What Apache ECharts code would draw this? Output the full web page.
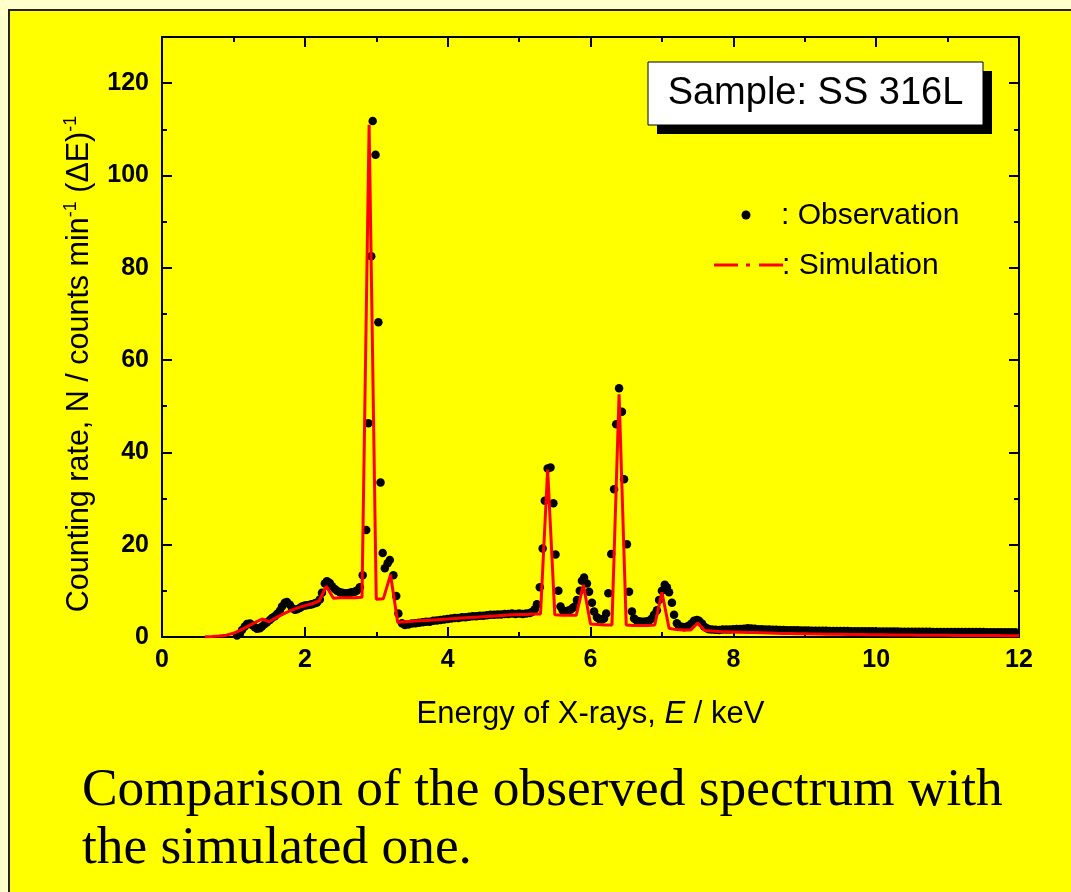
<!DOCTYPE html>
<html>
<head>
<meta charset="utf-8">
<script src="https://cdn.jsdelivr.net/npm/echarts@6/dist/echarts.min.js"></script>
<style>
html,body{margin:0;padding:0;background:#FFFFCC;}
#chart{width:1071px;height:892px;}
</style>
</head>
<body>
<div id="chart"></div>
<script>
// ---- data ----
const xTickValues = [0, 2, 4, 6, 8, 10, 12];
const yTickValues = [0, 20, 40, 60, 80, 100, 120];

// Observed spectrum: [energy keV, counting rate]
const observation = [
  [1.05,0.3],[1.09,0.7],[1.12,1.5],[1.16,2.3],[1.19,2.8],[1.23,2.9],[1.26,2.6],[1.30,2.1],[1.33,1.8],[1.37,1.9],
  [1.40,2.3],[1.44,2.8],[1.47,3.2],[1.51,3.7],[1.54,4.1],[1.58,4.5],[1.61,5.0],[1.65,5.7],[1.68,6.6],[1.72,7.4],
  [1.75,7.6],[1.79,7.0],[1.82,6.3],[1.86,5.9],[1.89,6.0],[1.93,6.3],[1.96,6.6],[2.00,6.8],[2.03,6.9],[2.07,7.0],
  [2.10,7.1],[2.14,7.3],[2.17,7.5],[2.21,8.1],[2.24,9.6],[2.28,11.6],[2.31,12.1],[2.35,11.7],[2.38,11.0],[2.42,10.4],
  [2.45,10.0],[2.49,9.7],[2.52,9.6],[2.56,9.5],[2.59,9.5],[2.63,9.6],[2.66,9.7],[2.70,9.8],[2.73,10.1],[2.77,10.8],
  [2.81,13.4],[2.86,23.2],[2.89,46.3],[2.93,82.5],[2.95,111.8],[2.99,104.5],[3.03,68.2],[3.06,33.5],[3.09,18.2],[3.12,14.9],
  [3.16,16.0],[3.19,16.7],[3.24,13.4],[3.28,8.9],[3.31,5.1],[3.36,3.0],[3.40,2.6],
  [3.45,2.7],[3.50,2.9],[3.55,3.0],[3.60,3.1],[3.65,3.2],[3.70,3.3],[3.75,3.3],[3.80,3.5],[3.85,3.6],[3.90,3.7],
  [3.95,3.8],[4.00,3.9],[4.05,4.0],[4.10,4.1],[4.15,4.1],[4.20,4.3],[4.25,4.3],[4.30,4.4],[4.35,4.5],[4.40,4.5],
  [4.45,4.6],[4.50,4.6],[4.55,4.7],[4.60,4.8],[4.65,4.8],[4.70,4.9],[4.75,4.9],[4.80,5.0],[4.85,5.0],[4.90,5.1],
  [4.95,5.0],[5.00,5.1],[5.05,5.0],[5.10,5.1],[5.15,5.2],[5.18,5.4],[5.22,6.0],[5.25,7.1],[5.29,10.8],[5.33,19.2],
  [5.36,29.5],[5.40,36.5],[5.44,36.7],[5.48,29.0],[5.51,17.9],[5.55,10.0],[5.58,6.6],[5.61,5.8],[5.65,5.6],[5.68,5.7],
  [5.72,5.9],[5.75,6.3],[5.78,6.6],[5.81,8.0],[5.85,10.0],[5.88,12.2],[5.91,12.9],[5.95,11.6],[5.98,9.8],[6.02,7.4],
  [6.05,5.5],[6.09,4.3],[6.12,3.9],[6.16,3.8],[6.19,4.0],[6.22,5.1],[6.25,9.5],[6.29,18.0],[6.33,32.0],[6.36,46.1],
  [6.40,53.9],[6.44,48.8],[6.47,34.2],[6.51,20.1],[6.54,9.8],[6.58,5.5],[6.61,4.0],[6.65,3.5],[6.68,3.4],[6.72,3.3],
  [6.75,3.3],[6.79,3.4],[6.82,3.5],[6.86,4.0],[6.89,4.8],[6.93,5.8],[6.96,8.0],[7.00,10.0],[7.04,11.3],[7.07,10.8],
  [7.10,9.7],[7.14,7.4],[7.17,4.8],[7.21,3.0],[7.24,2.4],[7.28,2.2],[7.31,2.1],[7.35,2.2],[7.38,2.5],[7.42,3.0],
  [7.45,3.5],[7.49,3.7],[7.52,3.5],[7.56,2.9],[7.59,2.3],[7.63,1.9],[7.66,1.7],
  [7.70,1.6],[7.75,1.55],[7.80,1.5],[7.85,1.6],[7.90,1.6],[7.95,1.65],[8.00,1.7],[8.05,1.72],[8.10,1.75],[8.15,1.8],
  [8.20,1.88],[8.25,1.85],[8.30,1.8],[8.35,1.7],[8.40,1.66],[8.45,1.6],[8.50,1.62],[8.55,1.55],[8.60,1.56],[8.65,1.5],
  [8.70,1.52],[8.75,1.48],[8.80,1.46],[8.85,1.47],[8.90,1.44],[8.95,1.42],[9.00,1.41],[9.05,1.4],[9.10,1.37],[9.15,1.38],
  [9.20,1.35],[9.25,1.36],[9.30,1.33],[9.35,1.32],[9.40,1.31],[9.45,1.3],[9.50,1.3],[9.55,1.28],[9.60,1.28],[9.65,1.26],
  [9.70,1.25],[9.75,1.26],[9.80,1.24],[9.85,1.23],[9.90,1.22],[9.95,1.23],[10.00,1.2],[10.05,1.21],[10.10,1.19],[10.15,1.18],
  [10.20,1.19],[10.25,1.17],[10.30,1.17],[10.35,1.16],[10.40,1.15],[10.45,1.16],[10.50,1.14],[10.55,1.14],[10.60,1.13],[10.65,1.13],
  [10.70,1.12],[10.75,1.13],[10.80,1.11],[10.85,1.11],[10.90,1.1],[10.95,1.1],[11.00,1.1],[11.05,1.09],[11.10,1.09],[11.15,1.08],
  [11.20,1.08],[11.25,1.08],[11.30,1.07],[11.35,1.07],[11.40,1.06],[11.45,1.06],[11.50,1.06],[11.55,1.05],[11.60,1.05],[11.65,1.05],
  [11.70,1.04],[11.75,1.04],[11.80,1.04],[11.85,1.03],[11.90,1.03],[11.95,1.02]
];

// Simulated spectrum: [energy keV, counting rate]
const simulation = [
  [0.6,0.05],[0.7,0.1],[0.8,0.2],[0.9,0.4],[1.0,0.8],[1.1,1.5],[1.2,2.3],[1.3,3.1],[1.4,3.9],[1.5,3.3],
  [1.6,4.2],[1.7,5.0],[1.8,5.7],[1.9,6.3],[2.0,6.8],[2.1,7.2],[2.2,7.8],[2.3,11.0],[2.4,8.4],[2.5,8.5],
  [2.6,8.5],[2.7,8.5],[2.8,8.6],[2.9,111.0],[3.0,8.2],[3.1,8.3],[3.2,13.5],[3.3,3.2],[3.4,3.3],[3.5,3.4],
  [3.6,3.5],[3.7,3.6],[3.8,3.7],[3.9,3.8],[4.0,3.9],[4.1,4.0],[4.2,4.1],[4.3,4.2],[4.4,4.3],[4.5,4.4],
  [4.6,4.5],[4.7,4.6],[4.8,4.7],[4.9,4.8],[5.0,4.9],[5.1,4.9],[5.2,5.0],[5.3,5.0],[5.4,36.3],[5.5,4.8],
  [5.6,4.7],[5.7,4.7],[5.8,4.7],[5.9,11.3],[6.0,2.8],[6.1,2.7],[6.2,2.6],[6.3,2.6],[6.4,52.6],[6.5,2.6],
  [6.6,2.5],[6.7,2.5],[6.8,2.5],[6.9,2.6],[7.0,9.7],[7.1,1.9],[7.2,1.6],[7.3,1.5],[7.4,1.5],[7.5,3.0],
  [7.6,1.4],[7.7,1.3],[7.8,1.2],[7.9,1.15],[8.0,1.1],[8.1,1.05],[8.2,1.0],[8.3,0.95],[8.4,0.9],[8.5,0.85],
  [8.6,0.8],[8.7,0.78],[8.8,0.75],[8.9,0.72],[9.0,0.7],[9.1,0.67],[9.2,0.65],[9.3,0.62],[9.4,0.6],[9.5,0.58],
  [9.6,0.56],[9.7,0.54],[9.8,0.52],[9.9,0.5],[10.0,0.48],[10.1,0.47],[10.2,0.45],[10.3,0.44],[10.4,0.43],[10.5,0.42],
  [10.6,0.4],[10.7,0.39],[10.8,0.38],[10.9,0.37],[11.0,0.36],[11.1,0.35],[11.2,0.34],[11.3,0.33],[11.4,0.32],[11.5,0.31],
  [11.6,0.3],[11.7,0.3],[11.8,0.29],[11.9,0.28],[12.0,0.28]
];

const sampleLabel = 'Sample: SS 316L';
const legendObs = ': Observation';
const legendSim = ': Simulation';
const caption = 'Comparison of the observed spectrum with\nthe simulated one.';

// ---- chart ----
const SANS = 'Liberation Sans, Arial, sans-serif';
const SERIF = 'Liberation Serif, Times New Roman, serif';
const chart = echarts.init(document.getElementById('chart'), null, {renderer: 'canvas'});

const tickStyle = {color: '#000', width: 2};
function xAxisDef(pos, showLabel) {
  return {
    type: 'value', position: pos, min: 0, max: 12, interval: 2,
    axisLine: {show: true, onZero: false, lineStyle: {color: '#000', width: 2}},
    axisTick: {show: true, inside: true, length: 10, lineStyle: tickStyle},
    minorTick: {show: true, splitNumber: 2, length: 5, lineStyle: tickStyle},
    splitLine: {show: false},
    axisLabel: {show: showLabel, color: '#000', fontSize: 25, fontWeight: 'bold', fontFamily: SANS, margin: 11,
      formatter: v => xTickValues.indexOf(v) >= 0 ? String(v) : ''}
  };
}
function yAxisDef(pos, interval, len, showLine, showLabel) {
  return {
    type: 'value', position: pos, min: 0, max: 130, interval: interval,
    axisLine: {show: showLine, onZero: false, lineStyle: {color: '#000', width: 2}},
    axisTick: {show: true, inside: true, length: len, lineStyle: tickStyle},
    splitLine: {show: false},
    axisLabel: {show: showLabel, color: '#000', fontSize: 25, fontWeight: 'bold', fontFamily: SANS, margin: 13,
      showMaxLabel: false,
      formatter: v => yTickValues.indexOf(v) >= 0 ? String(v) : ''}
  };
}

const xBottom = xAxisDef('bottom', true);
xBottom.name = 'Energy of X-rays, {i|E} / keV';
xBottom.nameLocation = 'middle';
xBottom.nameGap = 62;
xBottom.nameTextStyle = {color: '#000', fontSize: 31, fontFamily: SANS,
  rich: {i: {fontStyle: 'italic', fontSize: 31, fontFamily: SANS, color: '#000'}}};

const yLeft = yAxisDef('left', 20, 10, true, true);
yLeft.name = 'Counting rate, N / counts min{s|-1} (\u0394E){s|-1}';
yLeft.nameLocation = 'middle';
yLeft.nameGap = 62;
yLeft.nameTextStyle = {color: '#000', fontSize: 30.5, fontFamily: SANS, lineHeight: 34, padding: [0, 54, 0, 0],
  rich: {s: {fontSize: 18, fontFamily: SANS, color: '#000', verticalAlign: 'top', lineHeight: 18}}};

const option = {
  backgroundColor: '#FFFFCC',
  animation: false,
  title: {
    text: caption, left: 77, top: 757,
    textStyle: {fontFamily: SERIF, fontSize: 53.4, fontWeight: 'normal', color: '#000', lineHeight: 58}
  },
  grid: {left: 162, right: 52, top: 37, bottom: 255, containLabel: false},
  xAxis: [xBottom, xAxisDef('top', false)],
  yAxis: [
    yLeft,
    yAxisDef('left', 10, 5, false, false),
    yAxisDef('right', 20, 10, true, false),
    yAxisDef('right', 10, 5, false, false)
  ],
  graphic: {
    elements: [
      {type: 'rect', z: -100, silent: true, shape: {x: 9, y: 10, width: 1100, height: 900},
        style: {fill: '#FFFF00', stroke: '#222', lineWidth: 2}},
      {type: 'rect', z: 100, shape: {x: 657, y: 71, width: 335, height: 63}, style: {fill: '#000'}},
      {type: 'rect', z: 101, shape: {x: 648, y: 62, width: 335, height: 63}, style: {fill: '#fff', stroke: '#000', lineWidth: 1}},
      {type: 'text', z: 102, x: 815.5, y: 94, style: {text: sampleLabel, fill: '#000', fontSize: 38, fontFamily: SANS,
        textAlign: 'center', textVerticalAlign: 'middle'}},
      {type: 'circle', z: 100, shape: {cx: 746, cy: 215, r: 4.5}, style: {fill: '#000'}},
      {type: 'text', z: 100, x: 781, y: 216, style: {text: legendObs, fill: '#000', fontSize: 30, fontFamily: SANS,
        textAlign: 'left', textVerticalAlign: 'middle'}},
      {type: 'line', z: 100, shape: {x1: 714, y1: 265, x2: 783, y2: 265},
        style: {stroke: '#FF0000', lineWidth: 3, lineDash: [24, 8, 4, 9]}},
      {type: 'text', z: 100, x: 782, y: 266, style: {text: legendSim, fill: '#000', fontSize: 30, fontFamily: SANS,
        textAlign: 'left', textVerticalAlign: 'middle'}}
    ]
  },
  series: [
    {name: 'Observation', type: 'scatter', data: observation, symbol: 'circle', symbolSize: 8.5,
      itemStyle: {color: '#000', opacity: 1}, z: 3, silent: true},
    {name: 'Simulation', type: 'line', data: simulation, showSymbol: false, symbol: 'none',
      lineStyle: {color: '#FF0000', width: 3}, z: 4, silent: true}
  ]
};
chart.setOption(option);
</script>
</body>
</html>
